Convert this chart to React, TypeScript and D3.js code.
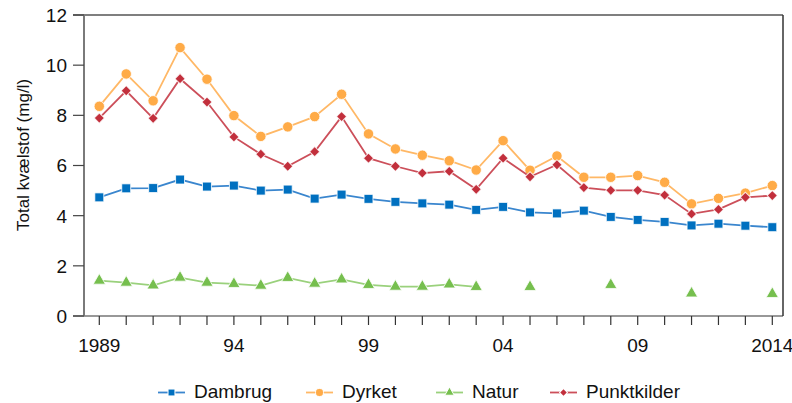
import React from 'react';
import * as d3 from 'd3';

const years = d3.range(1989, 2015);
const tickLabels = ['1989', '94', '99', '04', '09', '2014'];
const yTicks = [0, 2, 4, 6, 8, 10, 12];

const dambrug = [4.73, 5.09, 5.10, 5.44, 5.16, 5.20, 5.00, 5.04, 4.68, 4.84, 4.67, 4.55, 4.49, 4.44, 4.23, 4.35, 4.13, 4.09, 4.20, 3.95, 3.83, 3.75, 3.61, 3.68, 3.60, 3.54];
const dyrket = [8.36, 9.65, 8.58, 10.70, 9.44, 7.99, 7.16, 7.54, 7.95, 8.84, 7.26, 6.66, 6.41, 6.19, 5.82, 6.99, 5.81, 6.38, 5.53, 5.53, 5.60, 5.33, 4.47, 4.69, 4.90, 5.20];
const natur = [1.41, 1.33, 1.22, 1.53, 1.33, 1.28, 1.21, 1.52, 1.29, 1.46, 1.24, 1.17, 1.17, 1.26, 1.16, null, 1.16, null, null, 1.24, null, null, 0.90, null, null, 0.88];
const punktkilder = [7.89, 8.98, 7.88, 9.46, 8.53, 7.14, 6.45, 5.97, 6.55, 7.95, 6.29, 5.97, 5.70, 5.77, 5.05, 6.29, 5.55, 6.03, 5.12, 5.01, 5.01, 4.82, 4.07, 4.25, 4.73, 4.80];

// rot: rotate symbol (square -> diamond)
const series = [
  { name: 'Dambrug', values: dambrug, marker: '#0070C0', line: '#3A86CE', symbol: d3.symbolSquare, size: 80, rot: 0 },
  { name: 'Dyrket', values: dyrket, marker: '#FFAB47', line: '#FFB866', symbol: d3.symbolCircle, size: 85, rot: 0 },
  { name: 'Natur', values: natur, marker: '#76BF4E', line: '#9AD17C', symbol: d3.symbolTriangle, size: 65, rot: 0 },
  { name: 'Punktkilder', values: punktkilder, marker: '#C22F3C', line: '#CC4F5A', symbol: d3.symbolSquare, size: 52, rot: 45 },
];
const legendX = [158, 306, 436, 550];

const font = '"Liberation Sans", Arial, sans-serif';

export default function App() {
  const left = 84, right = 783, top = 15, bottom = 316;
  const x = d3.scaleLinear().domain([1989, 2014]).range([99.3, 772.3]);
  const y = d3.scaleLinear().domain([0, 12]).range([bottom, top]);

  return (
    <svg width={792} height={403} style={{ position: 'absolute', left: 0, top: 0, background: '#fff' }} fontFamily={font}>
      {/* frame */}
      <line x1={73} x2={right} y1={top} y2={top} stroke="#000" strokeWidth={1.2} />
      <line x1={right} x2={right} y1={top} y2={bottom} stroke="#333" strokeWidth={1.5} />
      <line x1={73} x2={right} y1={bottom} y2={bottom} stroke="#333" strokeWidth={1.2} />
      <line x1={left} x2={left} y1={top} y2={bottom} stroke="#7a7a7a" strokeWidth={2} />

      {/* y axis */}
      {yTicks.map(t => (
        <g key={t}>
          <line x1={73} x2={left} y1={y(t)} y2={y(t)} stroke="#444" strokeWidth={1.2} />
          <text x={67} y={y(t)} dy="0.36em" textAnchor="end" fontSize={19} fill="#111">{t}</text>
        </g>
      ))}
      <text transform={`translate(28.5,155) rotate(-90)`} textAnchor="middle" fontSize={17} fill="#111">Total kvælstof (mg/l)</text>

      {/* x axis */}
      {years.map(yr => (
        <line key={yr} x1={x(yr)} x2={x(yr)} y1={bottom} y2={325} stroke="#333" strokeWidth={1.2} />
      ))}
      {tickLabels.map((l, i) => (
        <text key={l} x={x(1989 + i * 5)} y={352} textAnchor="middle" fontSize={19} fill="#111">{l}</text>
      ))}

      {/* series */}
      {series.map(s => {
        const pts = s.values.map((v, i) => ({ yr: years[i], v }));
        const line = d3.line<any>().defined(d => d.v != null).x(d => x(d.yr)).y(d => y(d.v));
        const sym = d3.symbol().type(s.symbol).size(s.size);
        return (
          <g key={s.name}>
            <path d={line(pts) || ''} fill="none" stroke={s.line} strokeWidth={1.8} />
            {pts.filter(d => d.v != null).map(d => (
              <path key={d.yr} d={sym() || ''} transform={`translate(${x(d.yr)},${y(d.v as number)}) rotate(${s.rot})`}
                fill={s.marker} stroke="#fff" strokeOpacity={0.8} strokeWidth={1} />
            ))}
          </g>
        );
      })}

      {/* legend */}
      {series.map((s, i) => {
        const lx = legendX[i];
        const sym = d3.symbol().type(s.symbol).size(s.size * 0.6);
        return (
          <g key={s.name}>
            <line x1={lx} x2={lx + 27} y1={392.5} y2={392.5} stroke={s.line} strokeWidth={1.8} />
            <path d={sym() || ''} transform={`translate(${lx + 13.5},392.5) rotate(${s.rot})`} fill={s.marker} stroke="#fff" strokeWidth={1} />
            <text x={lx + 36} y={398} fontSize={19} fill="#111">{s.name}</text>
          </g>
        );
      })}
    </svg>
  );
}
